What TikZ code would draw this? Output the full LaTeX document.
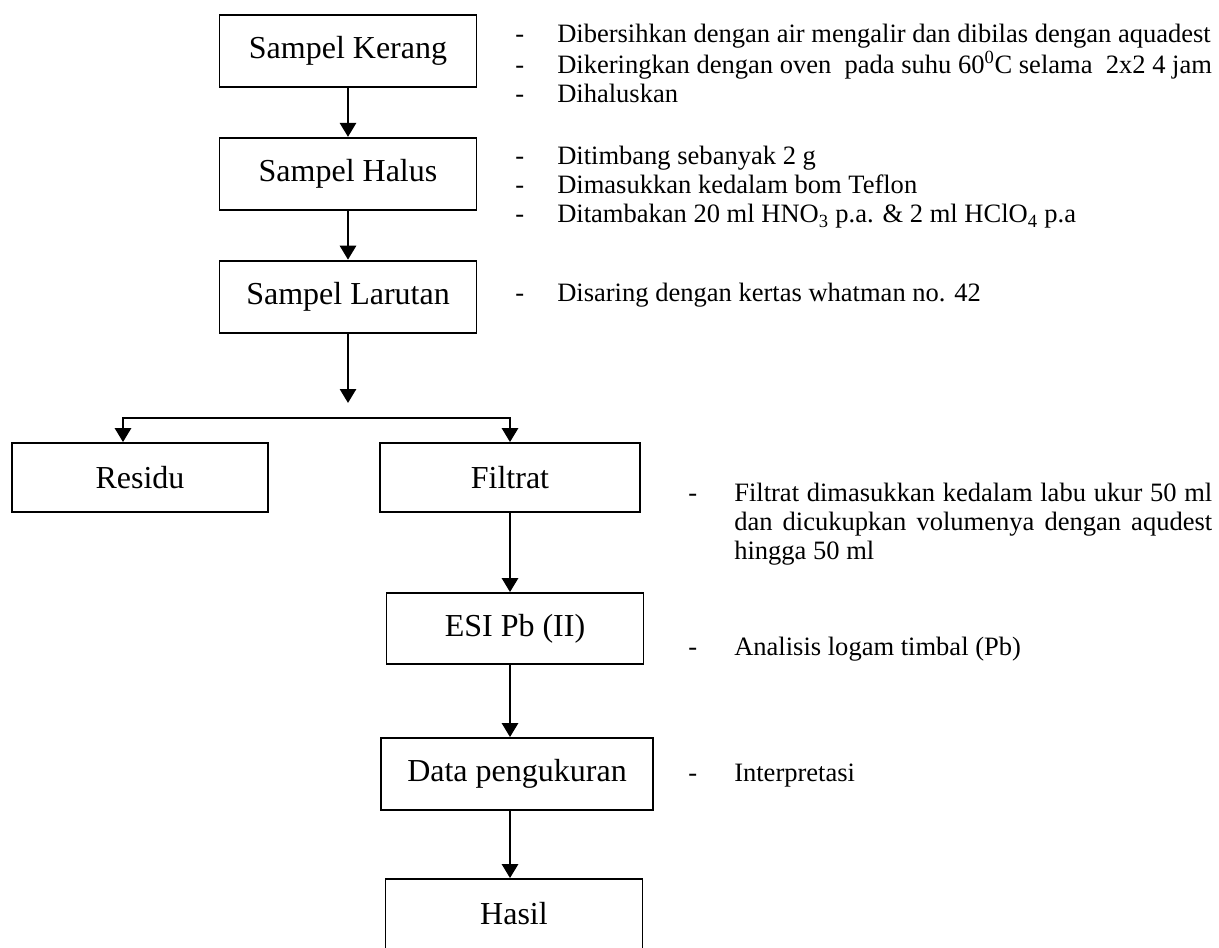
\documentclass[tikz,border=0pt]{standalone}
\usepackage{fontspec}
\setmainfont{Liberation Serif}
\usetikzlibrary{arrows.meta,positioning}

\newcommand\boxfont{\fontsize{24pt}{28pt}\selectfont}
\newcommand\notefont{\fontsize{19.9pt}{22.1pt}\selectfont}

\begin{document}
\begin{tikzpicture}[
  x=0.75pt, y=-0.75pt,
  box/.style={draw, line width=1.35pt, minimum width=192.75pt, minimum height=54pt, inner sep=0pt, font=\boxfont},
  arr/.style={-{Triangle[width=12pt,length=10.5pt]}, line width=2.1pt},
  branch/.style={{Triangle[width=12pt,length=10.5pt]}-{Triangle[width=12pt,length=10.5pt]}, line width=2.1pt},
  note/.style={anchor=base west, inner sep=0pt, font=\notefont}
]
  \useasboundingbox (0,0) rectangle (1219,947);

  % left column
  \node[box] (kerang) at (348,51) {Sampel Kerang};
  \node[box, below=36.75pt of kerang] (halus) {Sampel Halus};
  \node[box, below=36.75pt of halus] (larutan) {Sampel Larutan};
  \coordinate (split) at (348,403);
  \coordinate (brL) at (123,418);

  % after filtering
  \node[box, minimum width=192pt, minimum height=51.75pt] (residu) at (140,477.5) {Residu};
  \node[box, minimum width=195pt, minimum height=51.75pt] (filtrat) at (510,477.5) {Filtrat};
  \node[box, minimum height=53.25pt] (esi) at (515,628.5) {ESI Pb (II)};
  \node[box, minimum width=204pt] (data) at (517,774) {Data pengukuran};
  \node[box, minimum height=52.5pt] (hasil) at (514,914) {Hasil};

  % notes
  \node[note] (kerangnote) at (515,42) {\begin{tabular}[t]{@{}p{31.5pt}@{}l@{}}
    - & Dibersihkan dengan air mengalir dan dibilas dengan aquadest\\
    - & Dikeringkan dengan oven\ \ pada suhu 60\textsuperscript{0}C selama\ \ 2x2 4 jam\\
    - & Dihaluskan
  \end{tabular}};
  \node[note] (halusnote) at (515,164) {\begin{tabular}[t]{@{}p{31.5pt}@{}l@{}}
    - & Ditimbang sebanyak 2 g\\
    - & Dimasukkan kedalam bom Teflon\\
    - & Ditambakan 20 ml HNO\textsubscript{3} p.a. \& 2 ml HClO\textsubscript{4} p.a
  \end{tabular}};
  \node[note] (larutannote) at (515,301) {\begin{tabular}[t]{@{}p{31.5pt}@{}l@{}}
    - & Disaring dengan kertas whatman no. 42
  \end{tabular}};
  \node[note] (filtratnote) at (688,501) {\begin{tabular}[t]{@{}p{34.5pt}@{}p{358.5pt}@{}}
    - & Filtrat dimasukkan kedalam labu ukur 50 ml dan dicukupkan volumenya dengan aqudest hingga 50 ml
  \end{tabular}};
  \node[note] (esinote) at (688,655) {\begin{tabular}[t]{@{}p{34.5pt}@{}l@{}}
    - & Analisis logam timbal (Pb)
  \end{tabular}};
  \node[note] (datanote) at (688,781) {\begin{tabular}[t]{@{}p{34.5pt}@{}l@{}}
    - & Interpretasi
  \end{tabular}};

  \draw[arr] (kerang) -- (halus);
  \draw[arr] (halus) -- (larutan);
  \draw[arr] (larutan) -- (split);
  \draw[branch] (residu.north -| brL) |- (filtrat.north |- brL) -- (filtrat.north);
  \draw[arr] (filtrat.south) -- (filtrat.south |- esi.north);
  \draw[arr] (esi.south -| filtrat) -- (data.north -| filtrat);
  \draw[arr] (data.south -| filtrat) -- (hasil.north -| filtrat);
\end{tikzpicture}
\end{document}
